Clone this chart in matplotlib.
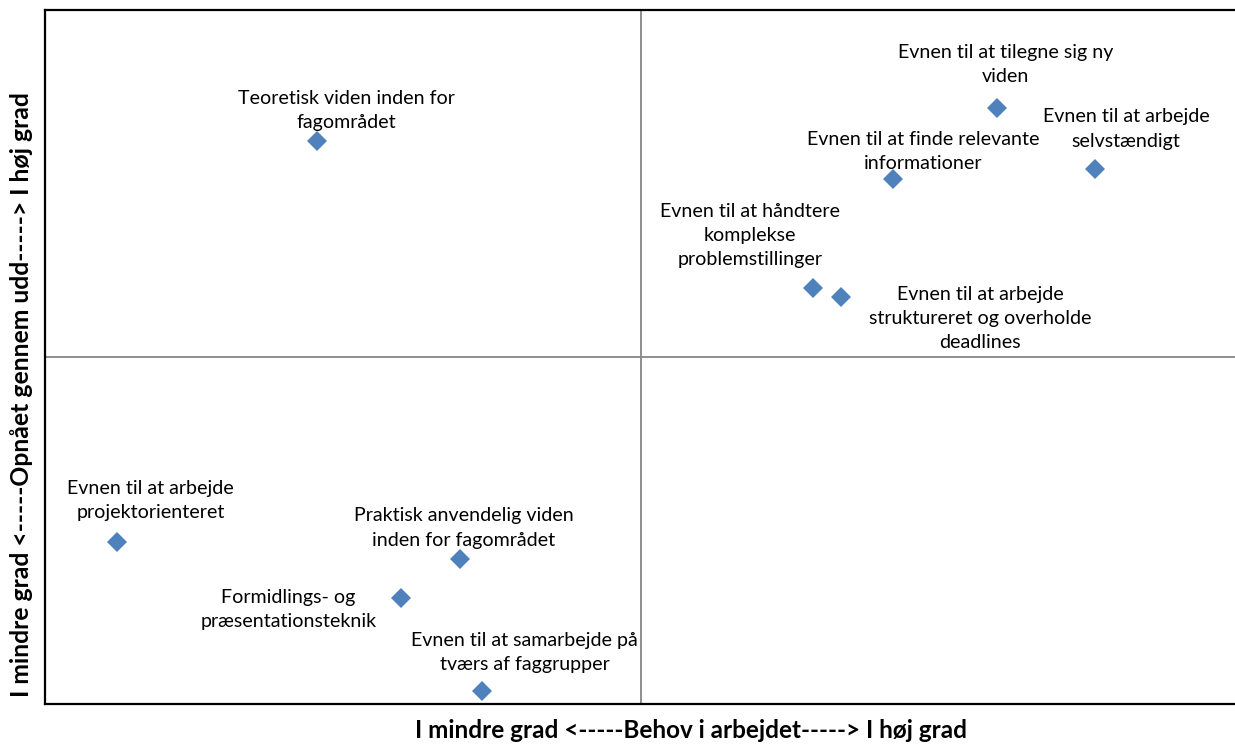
import numpy as np
import matplotlib
matplotlib.use("Agg")
import matplotlib.pyplot as plt

# region Data
labels = [
    "Teoretisk viden inden for\nfagområdet",
    "Evnen til at tilegne sig ny\nviden",
    "Evnen til at arbejde\nselvstændigt",
    "Evnen til at finde relevante\ninformationer",
    "Evnen til at håndtere\nkomplekse\nproblemstillinger",
    "Evnen til at arbejde\nstruktureret og overholde\ndeadlines",
    "Evnen til at arbejde\nprojektorienteret",
    "Praktisk anvendelig viden\ninden for fagområdet",
    "Formidlings- og\npræsentationsteknik",
    "Evnen til at samarbejde på\ntværs af faggrupper",
]
behov = [2.28, 7.99, 8.81, 7.11, 6.44, 6.68, 0.60, 3.48, 2.99, 3.67]
opnaaet = [8.11, 8.59, 7.71, 7.56, 6.00, 5.87, 2.34, 2.09, 1.53, 0.19]
# endregion

# label placement relative to the point (pixels)
label_offsets = [(30, 31), (8, 43), (31, 40), (31, 28), (-63, 52),
                 (139, -22), (34, 41), (4, 31), (-113, -12), (42, 38)]

plt.rcParams['font.family'] = ['Lato', 'DejaVu Sans']

fig = plt.figure(figsize=(12.35, 7.46), dpi=100)
ax = fig.add_axes([45 / 1235, 1 - 704 / 746, 1192 / 1235, 694 / 746])
ax.set_xlim(0, 10)
ax.set_ylim(0, 10)

ax.axvline(5, color='#868686', lw=1.3, zorder=1)
ax.axhline(5, color='#868686', lw=1.3, zorder=1)

ax.plot(behov, opnaaet, 'D', color='#4F81BD', markersize=10.5,
        markeredgewidth=0, zorder=3, clip_on=False)

for lab, x, y, off in zip(labels, behov, opnaaet, label_offsets):
    ax.annotate(lab, (x, y), xytext=off, textcoords='offset pixels',
                ha='center', va='center', fontsize=14.1,
                linespacing=1.52, color='black', zorder=4)

ax.set_xticks([])
ax.set_yticks([])
for side in ['left', 'top', 'bottom']:
    ax.spines[side].set_linewidth(1.6)
    ax.spines[side].set_color('black')
ax.spines['right'].set_visible(False)

fig.text(691 / 1235, 1 - 731 / 746,
         "I mindre grad <-----Behov i arbejdet-----> I høj grad",
         ha='center', va='center', fontsize=17.5, fontweight='bold')
fig.text(22 / 1235, 1 - 395 / 746,
         "I mindre grad <-----Opnået gennem udd-----> I høj grad",
         ha='center', va='center', rotation=90, fontsize=17.8,
         fontweight='bold')

fig.savefig("out.png", dpi=100)
